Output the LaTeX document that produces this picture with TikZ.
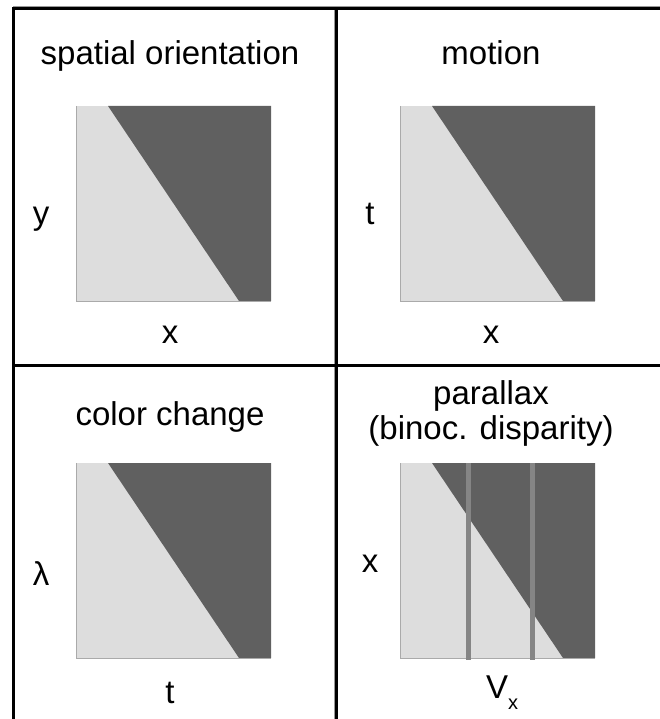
\documentclass[tikz,border=0pt]{standalone}
\usepackage{fontspec}
\setmainfont{Liberation Sans}
\definecolor{lightfill}{HTML}{DDDDDD}
\definecolor{darkfill}{HTML}{606060}
\definecolor{barcol}{HTML}{858585}
\definecolor{axiscol}{HTML}{AAAAAA}
\definecolor{ghost}{HTML}{999999}
\newcommand{\edgepanel}[2]{%
  \fill[lightfill] (#1,#2) rectangle ++(195,195);
  \fill[darkfill] (#1+32,#2) -- (#1+195,#2) -- (#1+195,#2+195) -- (#1+163,#2+195) -- cycle;
  \draw[axiscol, line width=1pt] (#1,#2) -- (#1,#2+195) -- (#1+195,#2+195);
}
\begin{document}
\begin{tikzpicture}[x=1pt,y=-1pt,
  lbl/.style={inner sep=0pt, anchor=base, font=\fontsize{33}{38}\selectfont},
  frame/.style={line width=3pt, black},
  bar/.style={barcol, line width=5pt}]
\useasboundingbox (0,0) rectangle (660,719);
% panels
\edgepanel{76}{106}
\edgepanel{400}{106}
\edgepanel{76}{463}
\edgepanel{400}{463}
% bars in parallax panel
\draw[bar] (468,463) -- (468,660);
\draw[bar] (532,463) -- (532,660);
% frame
\draw[ghost, line width=1pt] (13,7) -- (660,7);
\draw[ghost, line width=1pt] (334.5,8) -- (334.5,719);
\draw[frame] (13.5,719) -- (13.5,8.5) -- (660,8.5);
\draw[frame] (336.5,8.5) -- (336.5,719);
\draw[frame] (13.5,365) -- (660,365);
% texts
\node[lbl] (t1) at (170,65) {spatial orientation};
\node[lbl] (t2) at (491,65) {motion};
\node[lbl] (t3) at (170,425) {color change};
\node[lbl] (t4a) at (491,404) {parallax};
\node[lbl] (t4b) at (491,439) {(binoc. disparity)};
\node[lbl] (y1) at (41,224) {y};
\node[lbl] (x1) at (170,343) {x};
\node[lbl] (ty) at (370,224) {t};
\node[lbl] (x2) at (491,343) {x};
\node[lbl] (lam) at (41,585) {λ};
\node[lbl] (tx) at (170,703) {t};
\node[lbl] (x3) at (370,572) {x};
\node[lbl, anchor=base west] (vx) at (486,698) {V\raisebox{-11pt}{\fontsize{20}{20}\selectfont x}};
\end{tikzpicture}
\end{document}
